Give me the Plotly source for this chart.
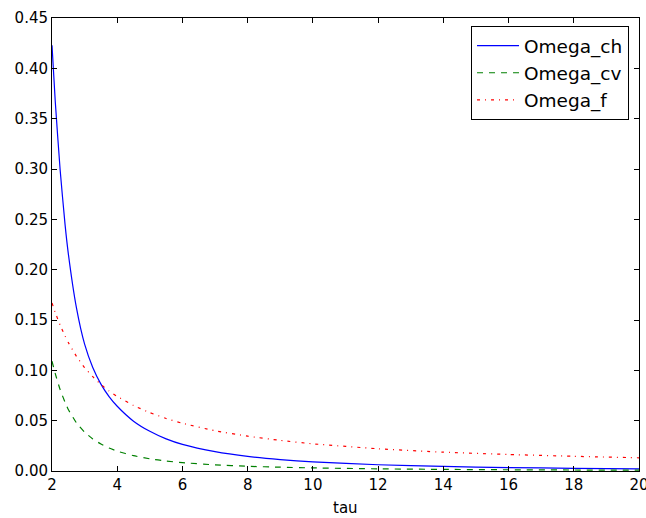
import plotly.graph_objects as go

tau = [2.0, 2.1, 2.25, 2.4, 2.5, 2.75, 3.0, 3.25, 3.5, 3.75, 4.0, 4.5, 5.0, 5.5, 6.0, 7.0, 8.0, 9.0,
       10.0, 12.0, 14.0, 16.0, 18.0, 20.0]
omega_ch = [0.423, 0.367, 0.299, 0.245, 0.216, 0.162, 0.126, 0.1028, 0.0863, 0.0739, 0.0643, 0.0495,
            0.0394, 0.0319, 0.0264, 0.0192, 0.0145, 0.0113, 0.0090, 0.0062, 0.0045, 0.0034, 0.0027, 0.0021]
omega_cv = [0.109, 0.0967, 0.0808, 0.0683, 0.0611, 0.0478, 0.0386, 0.0319, 0.0268, 0.0228, 0.0197, 0.0152,
            0.0121, 0.0099, 0.0083, 0.0061, 0.0047, 0.00376, 0.00308, 0.00215, 0.00159, 0.00123, 0.00098, 0.00081]
omega_f = [0.167, 0.1574, 0.1449, 0.1341, 0.1277, 0.1139, 0.1027, 0.0937, 0.0860, 0.0795, 0.0741, 0.0651,
           0.0580, 0.0522, 0.0474, 0.0400, 0.0346, 0.0304, 0.0270, 0.0221, 0.0187, 0.0164, 0.0146, 0.0131]

names = ["Omega_ch", "Omega_cv", "Omega_f"]
colors = ["#0000ff", "#008000", "#ff0000"]
dashes = ["solid", "6px,6px", "3px,5px,1px,5px"]

fig = go.Figure()
for name, ys, c, d in zip(names, [omega_ch, omega_cv, omega_f], colors, dashes):
    fig.add_trace(go.Scatter(x=tau, y=ys, mode="lines", name=name, legendgroup=name,
                             line=dict(color=c, width=1.2, dash=d, shape="spline", smoothing=0.5)))

axis_common = dict(showline=True, linecolor="black", linewidth=1, mirror="ticks",
                   ticks="inside", ticklen=5, tickcolor="black", showgrid=False, zeroline=False,
                   automargin=False, ticklabeloverflow="allow",
                   tickfont=dict(family="DejaVu Sans", size=15, color="black"))

fig.update_layout(
    width=646, height=518,
    margin=dict(l=52, r=7, t=18, b=47),
    paper_bgcolor="white", plot_bgcolor="white",
    font=dict(family="DejaVu Sans", size=15, color="black"),
    xaxis=dict(range=[2, 20], tickvals=[2, 4, 6, 8, 10, 12, 14, 16, 18, 20], **axis_common),
    yaxis=dict(range=[0, 0.45], tickvals=[0, 0.05, 0.1, 0.15, 0.2, 0.25, 0.3, 0.35, 0.4, 0.45],
               tickformat=".2f", **axis_common),
    legend=dict(x=0.983, y=0.982, xanchor="right", yanchor="top", bgcolor="white",
                bordercolor="black", borderwidth=1, font=dict(size=18.5), itemwidth=42,
                tracegroupgap=0),
    showlegend=True,
    annotations=[dict(text="tau", xref="paper", yref="paper", x=0.5, y=-0.082,
                      xanchor="center", yanchor="middle", showarrow=False,
                      font=dict(family="DejaVu Sans", size=15, color="black"))],
)

fig.write_html("out.html", config={"displayModeBar": False},
               post_script="document.body.style.margin='0';document.body.style.overflow='hidden';")
